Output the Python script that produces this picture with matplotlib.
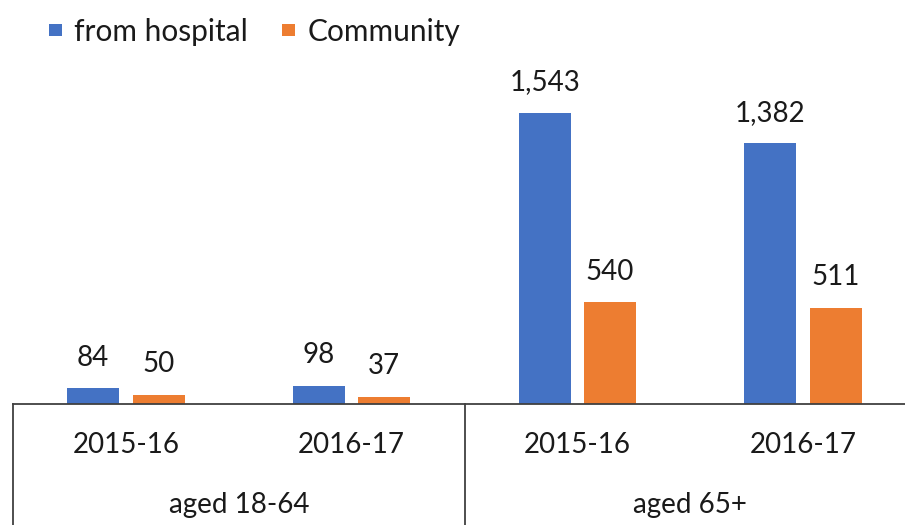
import matplotlib.pyplot as plt
import numpy as np

plt.rcParams['font.family'] = ['Lato', 'DejaVu Sans']

years = ['2015-16', '2016-17', '2015-16', '2016-17']
groups = ['aged 18-64', 'aged 65+']
from_hospital = [84, 98, 1543, 1382]
community = [50, 37, 540, 511]

blue = '#4472C4'
orange = '#ED7D31'
txt = '#1a1a1a'
fs = 20

fig = plt.figure(figsize=(9.05, 5.25), dpi=100)
# axes runs a little past the right edge of the figure
ax = fig.add_axes([13 / 905, 1 - 404 / 525, 903 / 905, 404 / 525])

x = np.arange(len(years))
w = 0.23
off = 0.145
b1 = ax.bar(x - off, from_hospital, w, color=blue, label='from hospital')
b2 = ax.bar(x + off, community, w, color=orange, label='Community')

for bars, vals in ((b1, from_hospital), (b2, community)):
    for r, v in zip(bars, vals):
        ax.annotate(f'{v:,}', (r.get_x() + r.get_width() / 2, v),
                    xytext=(0, 22), textcoords='offset points',
                    ha='center', va='center', fontsize=fs, color=txt)

ax.set_xlim(-0.5, len(years) - 0.5)
ax.set_ylim(0, 2142)
ax.set_yticks([])
ax.set_xticks([])
for s in ['top', 'left', 'right']:
    ax.spines[s].set_visible(False)
ax.spines['bottom'].set_color('#404040')
ax.spines['bottom'].set_linewidth(1.3)

# two-level category axis
xt = ax.get_xaxis_transform()
for i, yr in enumerate(years):
    ax.text(i, -0.1015, yr, transform=xt, ha='center', va='center',
            fontsize=fs, color=txt)
for j, g in enumerate(groups):
    ax.text(2 * j + 0.5, -0.25, g, transform=xt, ha='center', va='center',
            fontsize=fs, color=txt)
for sx in [-0.5, 1.5, 3.5]:
    ax.plot([sx, sx], [0, -0.35], transform=xt, color='#404040',
            lw=1.3, clip_on=False)

ax.legend(loc='upper left', bbox_to_anchor=(0.03, 0.978), ncol=2, frameon=False,
          fontsize=21.5, handlelength=0.42, handleheight=0.25, handletextpad=0.42,
          columnspacing=1.15, borderaxespad=0, borderpad=0.3, labelcolor=txt)

fig.savefig('out.png', dpi=100)
